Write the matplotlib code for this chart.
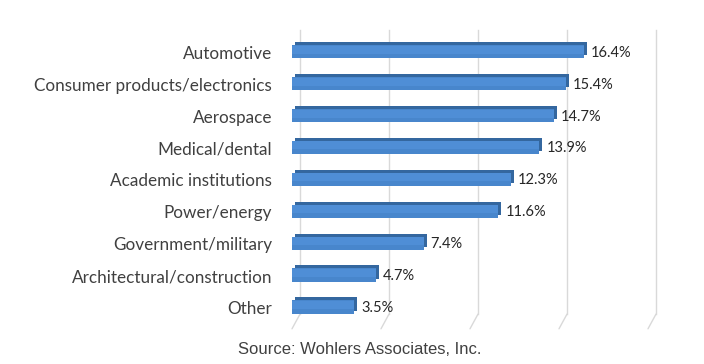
import matplotlib
matplotlib.use("Agg")
import matplotlib.pyplot as plt
from matplotlib.patches import Rectangle
from matplotlib.transforms import offset_copy

categories = ["Automotive", "Consumer products/electronics", "Aerospace",
              "Medical/dental", "Academic institutions", "Power/energy",
              "Government/military", "Architectural/construction", "Other"]
values = [16.4, 15.4, 14.7, 13.9, 12.3, 11.6, 7.4, 4.7, 3.5]
labels = ["16.4%", "15.4%", "14.7%", "13.9%", "12.3%", "11.6%", "7.4%", "4.7%", "3.5%"]
grid_ticks = [0, 5, 10, 15, 20]
source = "Source: Wohlers Associates, Inc."

W, H = 704, 364
fig = plt.figure(figsize=(W / 100, H / 100), dpi=100)
ax = fig.add_axes([292 / W, 40 / H, 356 / W, 294 / H])
ax.set_xlim(0, 20)
ax.set_ylim(-0.53, 8.68)
ax.axis("off")

n = len(categories)
ypos = [n - 1 - i for i in range(n)]

# back-plane gridlines (offset to the right), with slanted floor segment
back = offset_copy(ax.transData, fig=fig, x=8, y=0, units="dots")
for g in grid_ticks:
    ax.plot([g, g], [-0.22, 8.68], color="#D9D9D9", lw=1.0, transform=back,
            clip_on=False, zorder=0)
    p0 = ax.transData.transform((g, -0.22))
    ax.annotate("", xy=(g, -0.68), xytext=(p0[0] + 8, p0[1]), xycoords="data",
                textcoords="figure pixels", annotation_clip=False,
                arrowprops=dict(arrowstyle="-", color="#D9D9D9", lw=1.0,
                                shrinkA=0, shrinkB=0))

h = 0.42
depth = offset_copy(ax.transData, fig=fig, x=3, y=3, units="dots")
for y, v, lab in zip(ypos, values, labels):
    # depth (top + right side) drawn as shifted dark rectangle
    ax.add_patch(Rectangle((0, y - h / 2), v, h, facecolor="#34679F",
                           edgecolor="none", transform=depth, zorder=2))
    ax.add_patch(Rectangle((0, y - h / 2), v, h, facecolor="#4886CC",
                           edgecolor="none", zorder=3))
    ax.add_patch(Rectangle((0, y - h / 2 + h * 0.35), v, h * 0.6,
                           facecolor="#4F8ED6", edgecolor="none", zorder=3))
    ax.annotate(lab, xy=(v, y), xytext=(7, -1), textcoords="offset pixels",
                ha="left", va="center", fontsize=10.5, family="Lato",
                color="#262626", zorder=4)

for y, c in zip(ypos, categories):
    ax.annotate(c, xy=(0, y), xytext=(-20, -2), textcoords="offset pixels",
                ha="right", va="center", fontsize=12.3, family="Lato",
                color="#404040")

fig.text(360 / W, 1 - 350 / H, source, ha="center", va="center",
         fontsize=12, family="Liberation Sans", color="#404040")

fig.savefig("out.png", dpi=100)
